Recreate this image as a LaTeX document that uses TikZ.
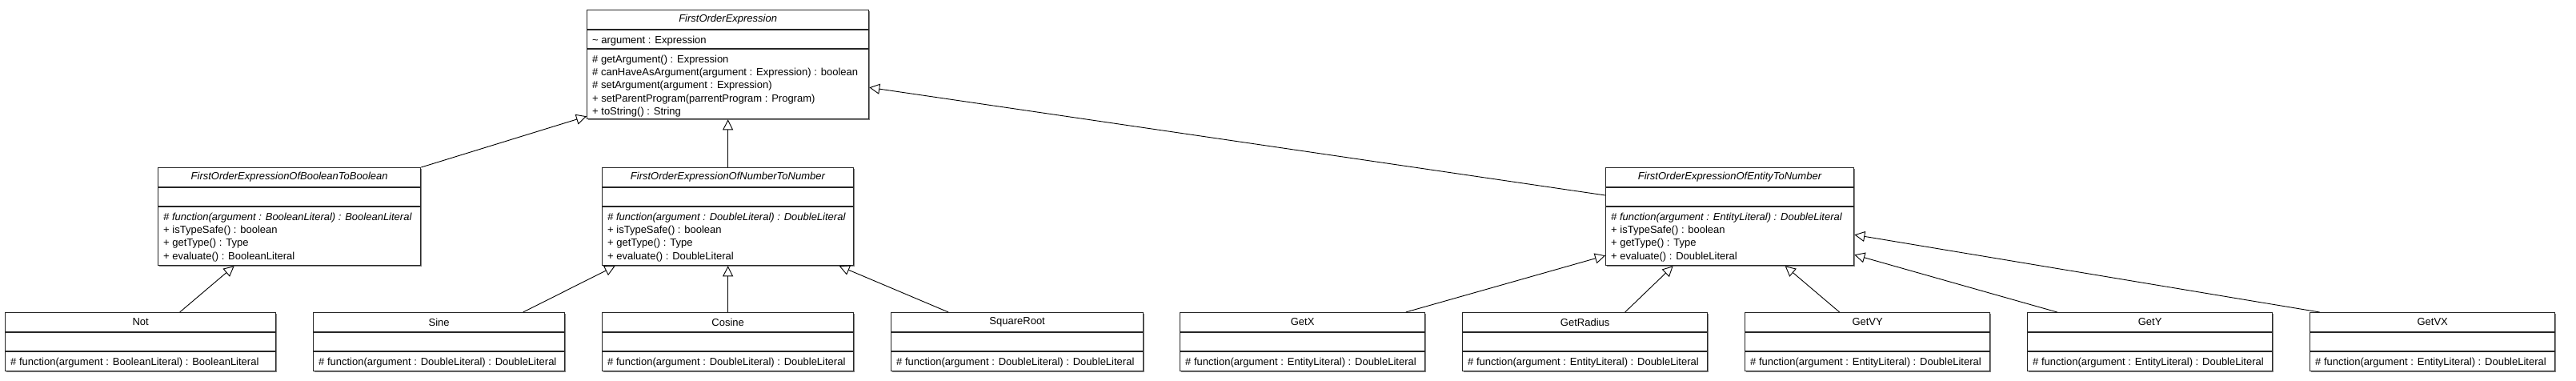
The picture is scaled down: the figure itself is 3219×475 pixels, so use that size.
\documentclass[tikz,border=0pt]{standalone}
\usepackage{fontspec}
\setmainfont{Liberation Sans}
\usepackage{xcolor}
\usepackage{tikz}
\usetikzlibrary{arrows.meta,shadows}
\tikzstyle{classbox} = [rectangle, anchor=north west, inner sep=0pt, draw=black!85, line width=1.3pt, fill=white, drop shadow={shadow xshift=1.3pt, shadow yshift=-1.3pt, fill=black!50, opacity=1}]
\tikzstyle{sepline} = [draw=black!85, line width=1.3pt]
\tikzstyle{titletext} = [inner sep=0pt]
\tikzstyle{membertext} = [anchor=north west, align=left, inner xsep=7pt, inner ysep=7.5pt]
\tikzstyle{inherit} = [line width=0.9pt, -{Triangle[open, length=13pt, width=13pt]}]

% name, x, y, width, height, title, attributes, operations
\newcommand{\umlclass}[8]{%
	\node (#1) [classbox, minimum width=#4pt, minimum height=#5pt] at (#2,#3) {};
	\draw [sepline] ([yshift=-25pt]#1.north west) -- ([yshift=-25pt]#1.north east);
	\draw [sepline] ([yshift=-49pt]#1.north west) -- ([yshift=-49pt]#1.north east);
	\node [titletext] at ([yshift=-12.5pt]#1.north) {#6};
	\node [membertext] at ([yshift=-25pt]#1.north west) {#7};
	\node [membertext] at ([yshift=-49pt]#1.north west) {#8};
}

\begin{document}
\begin{tikzpicture}[x=1pt, y=-1pt, every node/.style={font=\fontsize{13}{16.4}\selectfont}]

	\useasboundingbox (0,0) rectangle (3219,475);

	\umlclass{expr}{733}{12}{352}{136}{\textit{FirstOrderExpression}}{\textasciitilde{} argument : Expression}{\# getArgument() : Expression\\ \# canHaveAsArgument(argument : Expression) : boolean\\ \# setArgument(argument : Expression)\\ + setParentProgram(parrentProgram : Program)\\ + toString() : String}

	\umlclass{booltobool}{197}{209}{328}{122}{\textit{FirstOrderExpressionOfBooleanToBoolean}}{}{\textit{\# function(argument : BooleanLiteral) : BooleanLiteral}\\ + isTypeSafe() : boolean\\ + getType() : Type\\ + evaluate() : BooleanLiteral}
	\umlclass{numtonum}{752}{209}{314}{122}{\textit{FirstOrderExpressionOfNumberToNumber}}{}{\textit{\# function(argument : DoubleLiteral) : DoubleLiteral}\\ + isTypeSafe() : boolean\\ + getType() : Type\\ + evaluate() : DoubleLiteral}
	\umlclass{entitytonum}{2006}{209}{310}{122}{\textit{FirstOrderExpressionOfEntityToNumber}}{}{\textit{\# function(argument : EntityLiteral) : DoubleLiteral}\\ + isTypeSafe() : boolean\\ + getType() : Type\\ + evaluate() : DoubleLiteral}

	\umlclass{not}{6}{390}{338}{73}{Not}{}{\# function(argument : BooleanLiteral) : BooleanLiteral}
	\umlclass{sine}{391}{390}{314}{73}{Sine}{}{\# function(argument : DoubleLiteral) : DoubleLiteral}
	\umlclass{cosine}{752}{390}{314}{73}{Cosine}{}{\# function(argument : DoubleLiteral) : DoubleLiteral}
	\umlclass{squareroot}{1113}{390}{315}{73}{SquareRoot}{}{\# function(argument : DoubleLiteral) : DoubleLiteral}
	\umlclass{getx}{1474}{390}{306}{73}{GetX}{}{\# function(argument : EntityLiteral) : DoubleLiteral}
	\umlclass{getradius}{1827}{390}{306}{73}{GetRadius}{}{\# function(argument : EntityLiteral) : DoubleLiteral}
	\umlclass{getvy}{2180}{390}{306}{73}{GetVY}{}{\# function(argument : EntityLiteral) : DoubleLiteral}
	\umlclass{gety}{2533}{390}{306}{73}{GetY}{}{\# function(argument : EntityLiteral) : DoubleLiteral}
	\umlclass{getvx}{2886}{390}{306}{73}{GetVX}{}{\# function(argument : EntityLiteral) : DoubleLiteral}

	% generalisations
	\draw [inherit] (booltobool.north east) -- ([yshift=4pt]expr.south west);
	\draw [inherit] (numtonum.north) -- (numtonum.north |- expr.south);
	\draw [inherit] ([yshift=-35pt]entitytonum.north west) -- ([yshift=40pt]expr.south east);

	\draw [inherit] ([xshift=49pt]not.north) -- ([xshift=-69pt]booltobool.south);
	\draw [inherit] ([xshift=105pt]sine.north) -- ([xshift=-141pt]numtonum.south);
	\draw [inherit] (cosine.north) -- (cosine.north |- numtonum.south);
	\draw [inherit] ([xshift=-86pt]squareroot.north) -- ([xshift=139pt]numtonum.south);

	\draw [inherit] ([xshift=129pt]getx.north) -- ([yshift=13pt]entitytonum.south west);
	\draw [inherit] ([xshift=50pt]getradius.north) -- ([xshift=-71pt]entitytonum.south);
	\draw [inherit] ([xshift=-35pt]getvy.north) -- ([xshift=69pt]entitytonum.south);
	\draw [inherit] ([xshift=-116pt]gety.north) -- ([yshift=14pt]entitytonum.south east);
	\draw [inherit] ([xshift=-141pt]getvx.north) -- ([yshift=39pt]entitytonum.south east);

\end{tikzpicture}
\end{document}
